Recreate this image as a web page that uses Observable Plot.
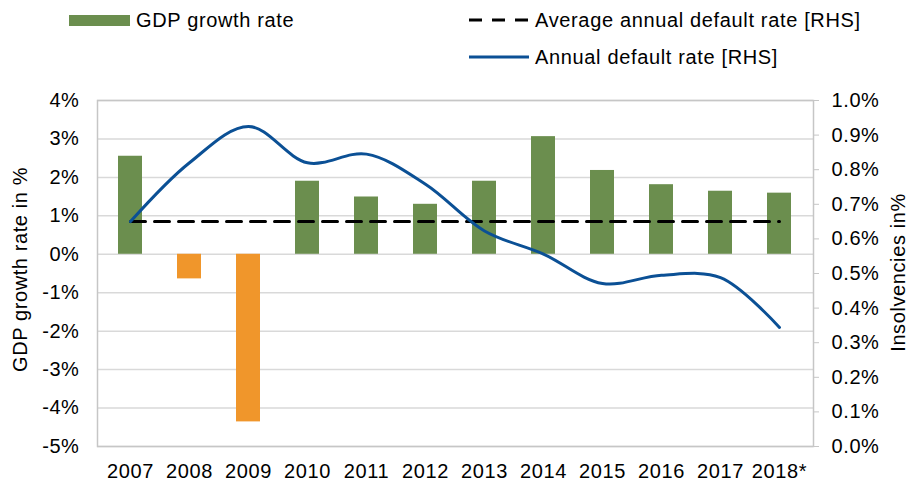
<!DOCTYPE html>
<html>
<head>
<meta charset="utf-8">
<script src="https://cdn.jsdelivr.net/npm/d3@7"></script>
<script src="https://cdn.jsdelivr.net/npm/@observablehq/plot@0.6"></script>
<style>
  html, body { margin: 0; padding: 0; background: #fff; }
  body { width: 920px; height: 482px; overflow: hidden; font-family: "Liberation Sans", Arial, sans-serif; }
  #legend { position: relative; width: 920px; height: 80px; }
  #legend .t { position: absolute; font-size: 20px; line-height: 20px; color: #000; white-space: nowrap; letter-spacing: 0.65px; }
  #legend .sw { position: absolute; }
  #chart svg { display: block; letter-spacing: 0.6px; }
</style>
</head>
<body>
<div id="legend"></div>
<div id="chart"></div>
<script>
// ---- data ----
const years = ["2007","2008","2009","2010","2011","2012","2013","2014","2015","2016","2017","2018*"];
const gdpGrowth = [2.55, -0.64, -4.36, 1.90, 1.49, 1.30, 1.90, 3.06, 2.18, 1.81, 1.64, 1.59];
const defaultRate = [0.65, 0.82, 0.925, 0.82, 0.845, 0.758, 0.623, 0.556, 0.471, 0.495, 0.488, 0.344];
const avgDefaultRate = 0.65;
const leftTicks = [-5, -4, -3, -2, -1, 0, 1, 2, 3, 4];
const rightTicks = [0, 0.1, 0.2, 0.3, 0.4, 0.5, 0.6, 0.7, 0.8, 0.9, 1.0];
const legendLabels = ["GDP growth rate", "Average annual default rate [RHS]", "Annual default rate [RHS]"];
const axisTitles = ["GDP growth rate in %", "Insolvencies in%"];

const green = "#6b8e4e", orange = "#f0962b", blue = "#0b5095";

// map right axis (0..1%) onto left axis (-5..4%)
const L0 = -5, L1 = 4, R0 = 0, R1 = 1;
const toLeft = r => L0 + (r - R0) / (R1 - R0) * (L1 - L0);
const toRight = v => R0 + (v - L0) / (L1 - L0) * (R1 - R0);

const data = years.map((y, i) => ({year: y, gdp: gdpGrowth[i], rate: defaultRate[i], avg: avgDefaultRate}));

// ---- legend ----
const lg = document.getElementById("legend");
lg.innerHTML = `
  <div class="sw" style="left:69px;top:15px;width:61px;height:11px;background:${green}"></div>
  <div class="t" style="left:136px;top:10px">${legendLabels[0]}</div>
  <svg class="sw" style="left:469px;top:17px" width="62" height="6"><line x1="0" y1="3" x2="60" y2="3" stroke="#000" stroke-width="3" stroke-dasharray="13,10"/></svg>
  <div class="t" style="left:535px;top:10px">${legendLabels[1]}</div>
  <svg class="sw" style="left:469px;top:54px" width="62" height="6"><line x1="0" y1="3" x2="60" y2="3" stroke="${blue}" stroke-width="3"/></svg>
  <div class="t" style="left:535px;top:47px">${legendLabels[2]}</div>
`;

// ---- chart ----
const chart = Plot.plot({
  width: 920,
  height: 402,
  marginTop: 20,
  marginBottom: 36,
  marginLeft: 97,
  marginRight: 107,
  style: {fontFamily: "'Liberation Sans', Arial, sans-serif", fontSize: "20px", color: "#000", background: "#fff", overflow: "visible"},
  x: {domain: years, paddingInner: 0.59, paddingOuter: 0.295, label: null},
  y: {domain: [L0, L1], label: null},
  marks: [
    Plot.gridY(leftTicks, {stroke: "#d9d9d9", strokeOpacity: 1, strokeWidth: 1.5}),
    Plot.barY(data, {x: "year", y: "gdp", fill: d => d.gdp < 0 ? orange : green}),
    Plot.frame({stroke: "#c6c6c6", strokeWidth: 1.5}),
    Plot.axisY(leftTicks, {anchor: "left", tickSize: 0, tickPadding: 18, tickFormat: d => d + "%", label: null}),
    Plot.axisY(rightTicks.map(toLeft), {anchor: "right", tickSize: 5, stroke: "#c6c6c6", tickPadding: 13, tickFormat: v => toRight(v).toFixed(1) + "%", label: null}),
    Plot.axisX({anchor: "bottom", tickSize: 0, tickPadding: 17, label: null}),
    Plot.line(data, {x: "year", y: d => toLeft(d.avg), stroke: "#000", strokeWidth: 3, strokeDasharray: "15,9"}),
    Plot.line(data, {x: "year", y: d => toLeft(d.rate), stroke: blue, strokeWidth: 3, curve: "catmull-rom"}),
    Plot.text([axisTitles[0]], {frameAnchor: "left", textAnchor: "middle", dx: -77, dy: -4, rotate: -90, fontSize: 20}),
    Plot.text([axisTitles[1]], {frameAnchor: "right", textAnchor: "middle", dx: 85, dy: -1, rotate: -90, fontSize: 20})
  ]
});
document.getElementById("chart").appendChild(chart);
</script>
</body>
</html>
